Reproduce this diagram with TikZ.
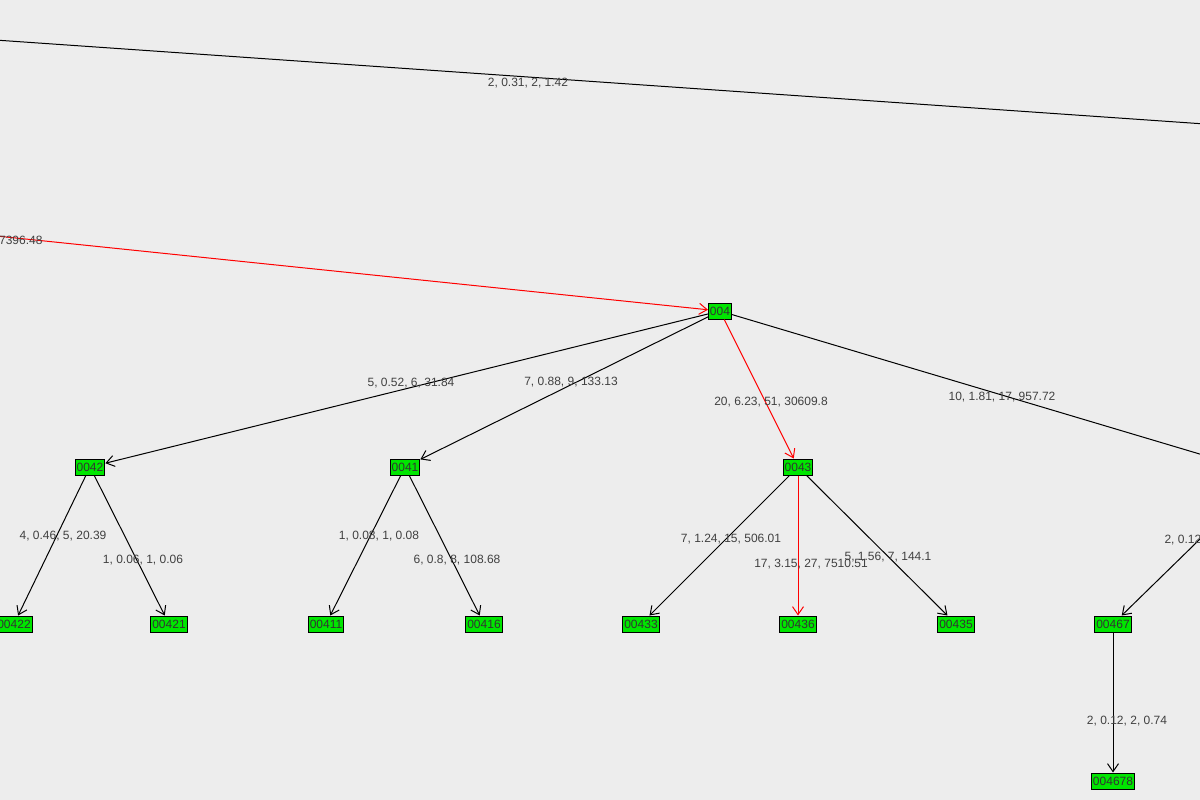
\documentclass[tikz,border=0pt]{standalone}
\usepackage{fontspec}
\setmainfont{Liberation Sans}
\usetikzlibrary{arrows.meta}
\definecolor{ndgreen}{RGB}{0,230,0}
\begin{document}
\begin{tikzpicture}[x=1pt,y=-1pt,line width=1pt,
  nd/.style={draw=black,fill=ndgreen,inner sep=1.5pt,minimum height=16pt,font=\fontsize{12}{13}\selectfont,text=black!80},
  lb/.style={font=\fontsize{12}{13}\selectfont,text=black!75,inner sep=0pt},
  ed/.style={draw=black,-{Straight Barb[length=8pt,width=11pt]}},
  red/.style={draw=red,-{Straight Barb[length=8pt,width=11pt]}}]
\fill[black!7] (0,0) rectangle (1200,800);
\useasboundingbox (0,0) rectangle (1200,800);
\clip (0,0) rectangle (1200,800);
\coordinate (tl) at (-5,40);
\coordinate (tr) at (1205,124);
\coordinate (rl) at (-100,226);
\coordinate (rr) at (1260,472);
\coordinate (ri) at (1240,500);
\node[nd] (n004) at (720,311) {004};
\node[nd] (n0042) at (90,467) {0042};
\node[nd] (n0041) at (405,467) {0041};
\node[nd] (n0043) at (798,467) {0043};
\node[nd] (n00422) at (14,624) {00422};
\node[nd] (n00421) at (169,624) {00421};
\node[nd] (n00411) at (326,624) {00411};
\node[nd] (n00416) at (484,624) {00416};
\node[nd] (n00433) at (641,624) {00433};
\node[nd] (n00436) at (798,624) {00436};
\node[nd] (n00435) at (956,624) {00435};
\node[nd] (n00467) at (1113,624) {00467};
\node[nd] (n004678) at (1113,781) {004678};
\draw (tl) -- (tr);
\draw[red] (rl) -- (n004);
\draw (n004) -- (rr);
\draw[ed] (ri) -- (n00467);
\draw[ed] (n004) -- (n0042);
\draw[ed] (n004) -- (n0041);
\draw[red] (n004) -- (n0043);
\draw[ed] (n0042) -- (n00422);
\draw[ed] (n0042) -- (n00421);
\draw[ed] (n0041) -- (n00411);
\draw[ed] (n0041) -- (n00416);
\draw[ed] (n0043) -- (n00433);
\draw[red] (n0043) -- (n00436);
\draw[ed] (n0043) -- (n00435);
\draw[ed] (n00467) -- (n004678);
\node[lb] (l1) at (528,83) {2, 0.31, 2, 1.42};
\node[lb,anchor=east] (l2) at (43,240) {7396.48};
\node[lb] (l3) at (411,383) {5, 0.52, 6, 31.84};
\node[lb] (l4) at (571,382) {7, 0.88, 9, 133.13};
\node[lb] (l5) at (771,402) {20, 6.23, 51, 30609.8};
\node[lb] (l6) at (1002,397) {10, 1.81, 17, 957.72};
\node[lb] (l7) at (63,536) {4, 0.46, 5, 20.39};
\node[lb] (l8) at (143,560) {1, 0.06, 1, 0.06};
\node[lb] (l9) at (379,536) {1, 0.08, 1, 0.08};
\node[lb] (l10) at (457,560) {6, 0.8, 8, 108.68};
\node[lb] (l11) at (731,539) {7, 1.24, 15, 506.01};
\node[lb] (l12) at (811,564) {17, 3.15, 27, 7510.51};
\node[lb] (l13) at (888,557) {5, 1.56, 7, 144.1};
\node[lb,anchor=west] (l14) at (1164,540) {2, 0.12, 2, 0.74};
\node[lb] (l15) at (1127,721) {2, 0.12, 2, 0.74};
\end{tikzpicture}
\end{document}
